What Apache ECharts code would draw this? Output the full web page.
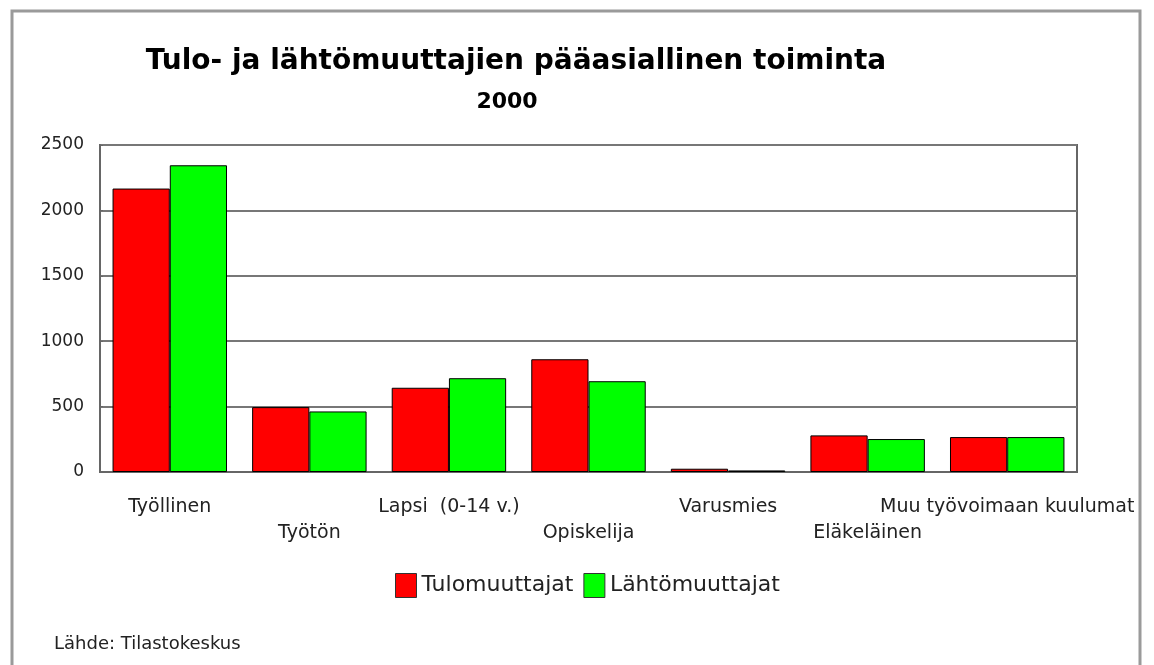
<!DOCTYPE html>
<html>
<head>
<meta charset="utf-8">
<script src="https://cdn.jsdelivr.net/npm/echarts@6/dist/echarts.min.js"></script>
<style>
  html, body { margin: 0; padding: 0; background: #fff; }
  #chart { width: 1154px; height: 665px; }
</style>
</head>
<body>
<div id="chart"></div>
<script>
// data
var categories = ["Työllinen", "Työtön", "Lapsi  (0-14 v.)", "Opiskelija", "Varusmies", "Eläkeläinen", "Muu työvoimaan kuulumat"];
var tulomuuttajat = [2167, 496, 644, 862, 25, 280, 267];
var lahtomuuttajat = [2345, 463, 717, 694, 12, 252, 267];
var yTicks = [0, 500, 1000, 1500, 2000, 2500];

var myChart = echarts.init(document.getElementById("chart"));

myChart.setOption({
  animation: false,
  textStyle: { fontFamily: "DejaVu Sans, sans-serif" },
  title: [
    {
      text: "Tulo- ja lähtömuuttajien pääasiallinen toiminta",
      left: 511, top: 43, textAlign: "center",
      textStyle: { fontSize: 28, fontWeight: "bold", color: "#000", fontFamily: "DejaVu Sans" },
    },
    {
      text: "2000",
      left: 502, top: 86, textAlign: "center",
      textStyle: { fontSize: 22, fontWeight: "bold", color: "#000", fontFamily: "DejaVu Sans" },
    },
    {
      text: "Lähde: Tilastokeskus",
      left: 49, top: 630,
      textStyle: { fontSize: 18, fontWeight: "normal", color: "#222", fontFamily: "DejaVu Sans" },
    },
  ],
  graphic: [
    {
      // outer frame, bottom edge is cut off in the picture
      type: "polyline",
      shape: { points: [[12, 670], [12, 11], [1140, 11], [1140, 670]] },
      style: { stroke: "#9a9a9a", lineWidth: 3, fill: null },
      z: 100,
    },
  ],
  legend: {
    left: 390, top: 568,
    icon: "rect",
    itemWidth: 21, itemHeight: 24, itemGap: 10,
    textStyle: { fontSize: 22, color: "#222", fontFamily: "DejaVu Sans" },
    itemStyle: { borderColor: "#333", borderWidth: 1 },
    data: ["Tulomuuttajat", "Lähtömuuttajat"],
  },
  grid: { left: 100, right: 77, top: 145, bottom: 193, show: true, borderColor: "#666", borderWidth: 2 },
  xAxis: {
    type: "category",
    data: categories,
    axisTick: { show: false },
    axisLine: { lineStyle: { color: "#666", width: 2 } },
    axisLabel: {
      interval: 0,
      color: "#222",
      fontSize: 19,
      margin: 22,
      lineHeight: 26,
      formatter: function (v, i) { return i % 2 ? "\n" + v : v; },
    },
  },
  yAxis: {
    type: "value",
    min: 0, max: 2500, interval: 500,
    axisLine: { show: true, lineStyle: { color: "#666", width: 2 } },
    axisTick: { show: true, length: 3, inside: true, lineStyle: { color: "#666" } },
    axisLabel: {
      color: "#222", fontSize: 17, margin: 16,
      customValues: yTicks,
      formatter: function (v) { return String(v); },
    },
    splitLine: { lineStyle: { color: "#777", width: 2 } },
  },
  series: [
    {
      name: "Tulomuuttajat",
      type: "bar",
      data: tulomuuttajat,
      barGap: "0%",
      barCategoryGap: "18%",
      itemStyle: { color: "#ff0000", borderColor: "#000", borderWidth: 1 },
    },
    {
      name: "Lähtömuuttajat",
      type: "bar",
      data: lahtomuuttajat,
      itemStyle: { color: "#00ff00", borderColor: "#000", borderWidth: 1 },
    },
  ],
});
</script>
</body>
</html>
